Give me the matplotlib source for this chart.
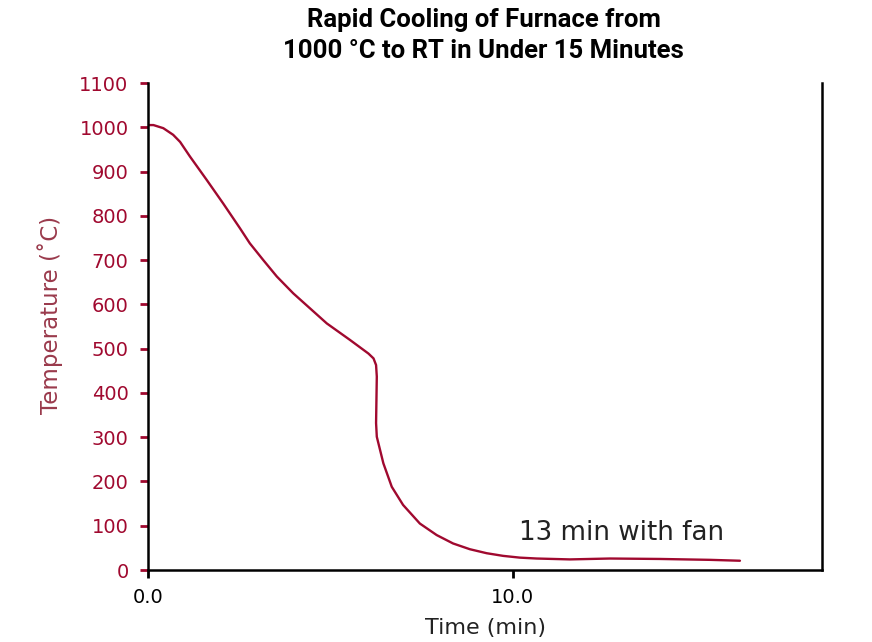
import matplotlib
matplotlib.use('Agg')
import matplotlib.pyplot as plt

# time (min) and furnace temperature (deg C)
time_min = [0.0, 0.15, 0.42, 0.69, 0.88, 1.15, 1.61, 2.06, 2.52, 2.79, 3.16, 3.53,
            3.98, 4.44, 4.90, 5.53, 6.04, 6.18, 6.25, 6.27, 6.26, 6.25, 6.27,
            6.45, 6.68, 6.99, 7.45, 7.91, 8.36, 8.82, 9.28, 9.73, 10.19, 10.65,
            11.56, 12.66, 14.03, 15.40, 16.22]
temp_c = [1005, 1005, 998, 983, 967, 934, 881, 828, 772, 738, 700, 663,
          625, 591, 557, 520, 489, 478, 463, 437, 384, 332, 301,
          241, 188, 147, 105, 79, 60, 47, 38, 32, 28, 26,
          24, 26, 25, 23, 21]

y_ticks = [0, 100, 200, 300, 400, 500, 600, 700, 800, 900, 1000, 1100]
x_ticks = [0.0, 10.0]
x_ticklabels = ['0.0', '10.0']

crimson = '#a0092f'
label_red = '#9a3a4c'

plt.rcParams['font.family'] = ['DejaVu Sans']

fig = plt.figure(figsize=(8.72, 6.42), dpi=100)
ax = fig.add_axes([0.1697, 0.1121, 0.7730, 0.7586])

ax.plot(time_min, temp_c, color=crimson, linewidth=1.7,
        solid_joinstyle='round', solid_capstyle='round')

ax.set_xlim(0, 18.47)
ax.set_ylim(0, 1100)
ax.set_yticks(y_ticks)
ax.set_xticks(x_ticks)
ax.set_xticklabels(x_ticklabels)

ax.spines['top'].set_visible(False)
for s in ['left', 'bottom', 'right']:
    ax.spines[s].set_linewidth(1.8)
    ax.spines[s].set_color('black')

ax.tick_params(axis='y', colors=crimson, labelsize=14, length=6, width=2, pad=8)
ax.tick_params(axis='x', colors='black', labelsize=14, length=6, width=2, pad=7)

ax.set_xlabel('Time (min)', fontsize=16, color='#222222', labelpad=8)
ax.set_ylabel('Temperature (˚C)', fontsize=16.5, color=label_red)
ax.yaxis.set_label_coords(-0.126, 0.524)

ax.text(10.16, 84, '13 min with fan', fontsize=18.8, color='#222222', va='center', ha='left')

fig.text(0.5545, 0.9447, 'Rapid Cooling of Furnace from\n1000 °C to RT in Under 15 Minutes',
         ha='center', va='center', fontsize=18.5, fontweight='bold', family='Roboto',
         linespacing=1.4)

fig.savefig('out.png', dpi=100)
